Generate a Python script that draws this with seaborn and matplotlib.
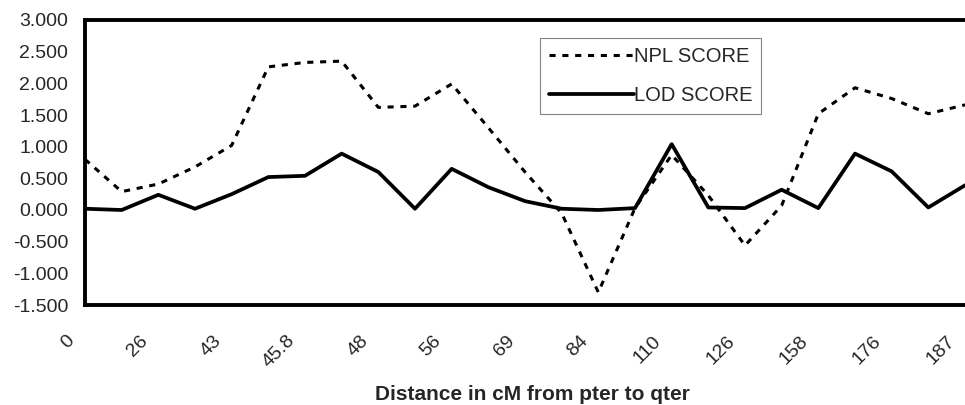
import seaborn as sns
import matplotlib.pyplot as plt
import matplotlib.transforms as mtransforms
import pandas as pd

# tick labels (cM) shown at every other marker
cm_labels = ["0", "26", "43", "45.8", "48", "56", "69", "84", "110", "126", "158", "176", "187"]

npl_score = [0.80, 0.29, 0.41, 0.68, 1.02, 2.26, 2.33, 2.35, 1.62, 1.64, 1.99, 1.30, 0.60,
             -0.05, -1.30, 0.03, 0.87, 0.23, -0.56, 0.07, 1.52, 1.93, 1.76, 1.52, 1.66]
lod_score = [0.02, 0.00, 0.24, 0.02, 0.25, 0.52, 0.54, 0.89, 0.60, 0.02, 0.65, 0.36, 0.14,
             0.02, 0.00, 0.03, 1.04, 0.04, 0.03, 0.32, 0.03, 0.89, 0.61, 0.04, 0.39]

sns.set_style("white")
plt.rcParams['font.family'] = ['Liberation Sans', 'DejaVu Sans']

df = pd.DataFrame({"pos": range(len(npl_score)), "NPL SCORE": npl_score, "LOD SCORE": lod_score})

fig = plt.figure(figsize=(9.65, 4.05), dpi=100)
ax = fig.add_axes([85 / 965, 1 - 305 / 405, 1 - 85 / 965, 285 / 405])

sns.lineplot(data=df, x="pos", y="NPL SCORE", ax=ax, color="black", linewidth=2.2,
             label="NPL SCORE")
ax.lines[-1].set_dashes((2.0, 2.2))
sns.lineplot(data=df, x="pos", y="LOD SCORE", ax=ax, color="black", linewidth=2.7,
             label="LOD SCORE")

ax.set_xlim(0, len(npl_score) - 1)
ax.set_ylim(-1.5, 3.0)
ax.set_yticks([3.0, 2.5, 2.0, 1.5, 1.0, 0.5, 0.0, -0.5, -1.0, -1.5])
ax.set_yticklabels([f"{v:.3f}" for v in ax.get_yticks()], fontsize=14)
ax.set_xticks(range(0, len(npl_score), 2))
ax.set_xticklabels(cm_labels, rotation=45, ha="right", va="center", rotation_mode="anchor",
                   fontsize=14)
ax.set_xticks(range(len(npl_score)), minor=True)
ax.tick_params(axis="x", which="both", direction="in", length=4, width=0.6, color="#777777", pad=24)
ax.tick_params(axis="y", length=0, pad=12)
shift = mtransforms.ScaledTranslation(-13 / 100, 0, fig.dpi_scale_trans)
for lab in ax.get_xticklabels():
    lab.set_transform(lab.get_transform() + shift)

ax.set_xlabel("Distance in cM from pter to qter", fontsize=15, fontweight="bold")
ax.xaxis.set_label_coords(0.508, -0.28)
ax.set_ylabel("")

for side in ["left", "bottom", "top"]:
    ax.spines[side].set_linewidth(2.8)
    ax.spines[side].set_color("black")
ax.spines["right"].set_visible(False)

leg = ax.legend(loc="upper left", bbox_to_anchor=(0.517, 0.937), fontsize=14.5, frameon=True,
                fancybox=False, handlelength=4.2, handletextpad=0.0, borderpad=0.45,
                labelspacing=1.0, borderaxespad=0)
leg.get_frame().set_edgecolor("#666666")
leg.get_frame().set_linewidth(0.8)

plt.savefig("out.png", dpi=100)
